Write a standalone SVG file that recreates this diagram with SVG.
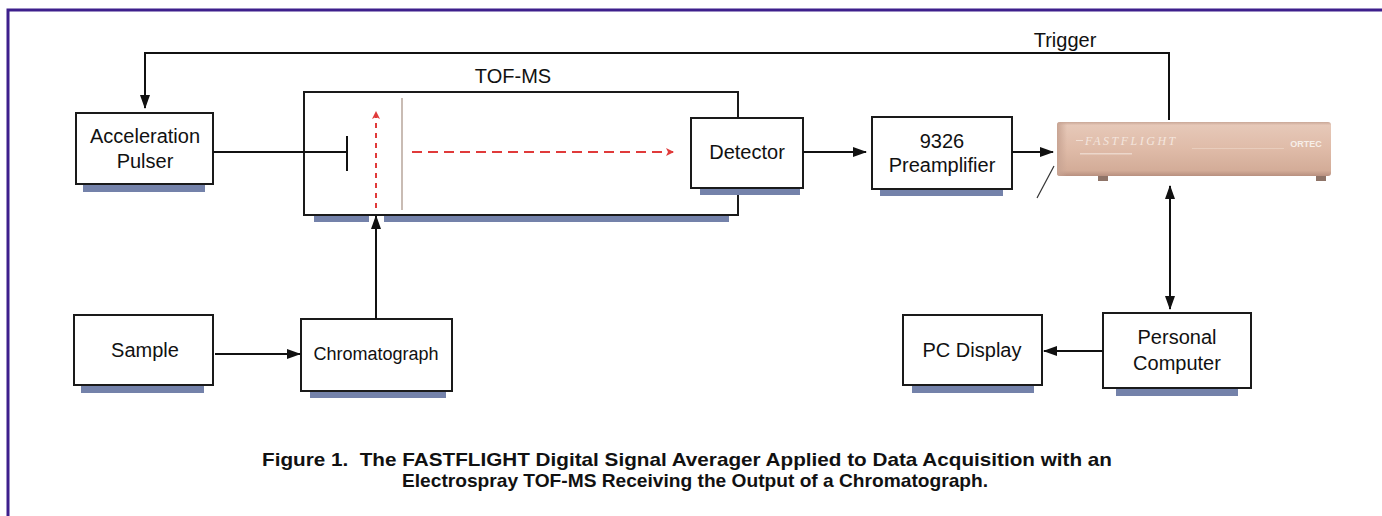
<svg xmlns="http://www.w3.org/2000/svg" width="1382" height="516" viewBox="0 0 1382 516">
  <defs>
    <marker id="arr" viewBox="0 0 14 10" refX="13" refY="5" markerWidth="14" markerHeight="10" markerUnits="userSpaceOnUse" orient="auto-start-reverse">
      <path d="M0,0 L14,5 L0,10 Z" fill="#111"/>
    </marker>
    <marker id="redArr" viewBox="0 0 8 8" refX="7" refY="4" markerWidth="8" markerHeight="8" markerUnits="userSpaceOnUse" orient="auto">
      <path d="M0,0 L8,4 L0,8 L2,4 Z" fill="#e03a3a"/>
    </marker>
    <linearGradient id="caseGrad" x1="0" y1="0" x2="0" y2="1">
      <stop offset="0" stop-color="#c9a797"/>
      <stop offset="0.06" stop-color="#e6c8b8"/>
      <stop offset="0.5" stop-color="#dfbba8"/>
      <stop offset="0.9" stop-color="#d3ac98"/>
      <stop offset="1" stop-color="#b89080"/>
    </linearGradient>
    <linearGradient id="caseEdge" x1="0" y1="0" x2="1" y2="0">
      <stop offset="0" stop-color="#c8a493"/>
      <stop offset="1" stop-color="#c8a493" stop-opacity="0"/>
    </linearGradient>
  </defs>
  <style>
    .box { fill: #fff; stroke: #1a1a1a; stroke-width: 2; }
    .shadow { fill: #7482aa; }
    .lbl { font-family: "Liberation Sans", Arial, sans-serif; font-size: 20px; fill: #111; text-anchor: middle; }
    .wire { fill: none; stroke: #111; stroke-width: 2; }
    .cap { font-family: "Liberation Sans", Arial, sans-serif; font-size: 19px; font-weight: bold; fill: #111; text-anchor: middle; white-space: pre; }
  </style>

  <rect width="1382" height="516" fill="#fff"/>
  <!-- outer frame -->
  <rect x="8" y="10" width="1400" height="530" fill="none" stroke="#3d1f8c" stroke-width="3"/>

  <!-- TOF-MS flight tube -->
  <g id="tof-ms">
    <rect class="shadow" x="314" y="215" width="55" height="7"/>
    <rect class="shadow" x="384" y="215" width="345" height="7"/>
    <rect class="box" x="304" y="92" width="434" height="123"/>
    <text class="lbl" x="513" y="83">TOF-MS</text>
    <!-- grid -->
    <path d="M402,98 V210" stroke="#c9bcb4" stroke-width="2"/>
    <!-- ion paths -->
    <path d="M376,208 V112" fill="none" stroke="#e03a3a" stroke-width="2" stroke-dasharray="5,5" marker-end="url(#redArr)"/>
    <path d="M412,152 H673" fill="none" stroke="#e03a3a" stroke-width="2" stroke-dasharray="10,6" marker-end="url(#redArr)"/>
  </g>

  <g id="acceleration-pulser">
    <rect class="shadow" x="83" y="184" width="122" height="8"/>
    <rect class="box" x="76" y="113" width="137" height="71"/>
    <text class="lbl" x="145" y="143">Acceleration</text>
    <text class="lbl" x="145" y="168">Pulser</text>
  </g>

  <g id="detector">
    <rect class="shadow" x="700" y="188" width="100" height="7"/>
    <rect class="box" x="691" y="118" width="112" height="70"/>
    <text class="lbl" x="747" y="159">Detector</text>
  </g>

  <g id="preamplifier">
    <rect class="shadow" x="880" y="189" width="123" height="7"/>
    <rect class="box" x="872" y="117" width="140" height="72"/>
    <text class="lbl" x="942" y="148">9326</text>
    <text class="lbl" x="942" y="172">Preamplifier</text>
  </g>

  <g id="fastflight">
    <rect x="1098" y="173" width="10" height="8" fill="#8f7468"/>
    <rect x="1316" y="173" width="10" height="8" fill="#8f7468"/>
    <rect x="1057" y="122" width="274" height="54" rx="3" fill="url(#caseGrad)"/>
    <rect x="1057" y="122" width="10" height="54" rx="3" fill="url(#caseEdge)"/>
    <text x="1085" y="145" font-family="Liberation Serif, serif" font-size="12" font-style="italic" letter-spacing="2.5" fill="#f4e6de">FASTFLIGHT</text>
    <rect x="1076" y="140" width="7" height="1" fill="#f1e0d6"/>
    <rect x="1080" y="153" width="52" height="1.5" fill="#f0dfd4" opacity="0.8"/>
    <rect x="1192" y="148" width="92" height="1" fill="#eed9cc" opacity="0.6"/>
    <text x="1306" y="147" font-family="Liberation Sans, Arial, sans-serif" font-size="9" font-weight="bold" fill="#f7efe9" text-anchor="middle">ORTEC</text>
  </g>

  <g id="sample">
    <rect class="shadow" x="81" y="385" width="123" height="8"/>
    <rect class="box" x="74" y="315" width="139" height="70"/>
    <text class="lbl" x="145" y="357">Sample</text>
  </g>

  <g id="chromatograph">
    <rect class="shadow" x="310" y="391" width="136" height="7"/>
    <rect class="box" x="301" y="319" width="151" height="72"/>
    <text class="lbl" x="376" y="360" style="font-size:18px">Chromatograph</text>
  </g>

  <g id="pc-display">
    <rect class="shadow" x="912" y="385" width="122" height="8"/>
    <rect class="box" x="903" y="315" width="139" height="70"/>
    <text class="lbl" x="972" y="357">PC Display</text>
  </g>

  <g id="personal-computer">
    <rect class="shadow" x="1116" y="388" width="122" height="8"/>
    <rect class="box" x="1103" y="313" width="148" height="75"/>
    <text class="lbl" x="1177" y="344">Personal</text>
    <text class="lbl" x="1177" y="370">Computer</text>
  </g>

  <!-- connectors -->
  <g id="connectors">
    <!-- trigger loop -->
    <path class="wire" d="M1169,120 V53 H145 V108" marker-end="url(#arr)"/>
    <!-- pulser to extraction plate -->
    <path class="wire" d="M213,152 H347"/>
    <path class="wire" d="M347,136 V171"/>
    <!-- chromatograph to TOF-MS -->
    <path class="wire" d="M376,319 V216" marker-end="url(#arr)"/>
    <!-- sample to chromatograph -->
    <path class="wire" d="M215,354 H300" marker-end="url(#arr)"/>
    <!-- detector to preamplifier -->
    <path class="wire" d="M803,152 H866" marker-end="url(#arr)"/>
    <!-- preamplifier to averager -->
    <path class="wire" d="M1012,152 H1053" marker-end="url(#arr)"/>
    <!-- averager to computer, bidirectional -->
    <path class="wire" d="M1170,186 V309" marker-start="url(#arr)" marker-end="url(#arr)"/>
    <!-- computer to display -->
    <path class="wire" d="M1103,351 H1044" marker-end="url(#arr)"/>
    <!-- pointer line at averager -->
    <path d="M1054,166 L1037,198" fill="none" stroke="#333" stroke-width="1.2"/>
  </g>

  <text class="lbl" x="1065" y="47">Trigger</text>

  <g id="caption">
    <text class="cap" x="687" y="466" textLength="850" lengthAdjust="spacingAndGlyphs">Figure 1.  The FASTFLIGHT Digital Signal Averager Applied to Data Acquisition with an</text>
    <text class="cap" x="695" y="487" textLength="586" lengthAdjust="spacingAndGlyphs">Electrospray TOF-MS Receiving the Output of a Chromatograph.</text>
  </g>
</svg>
